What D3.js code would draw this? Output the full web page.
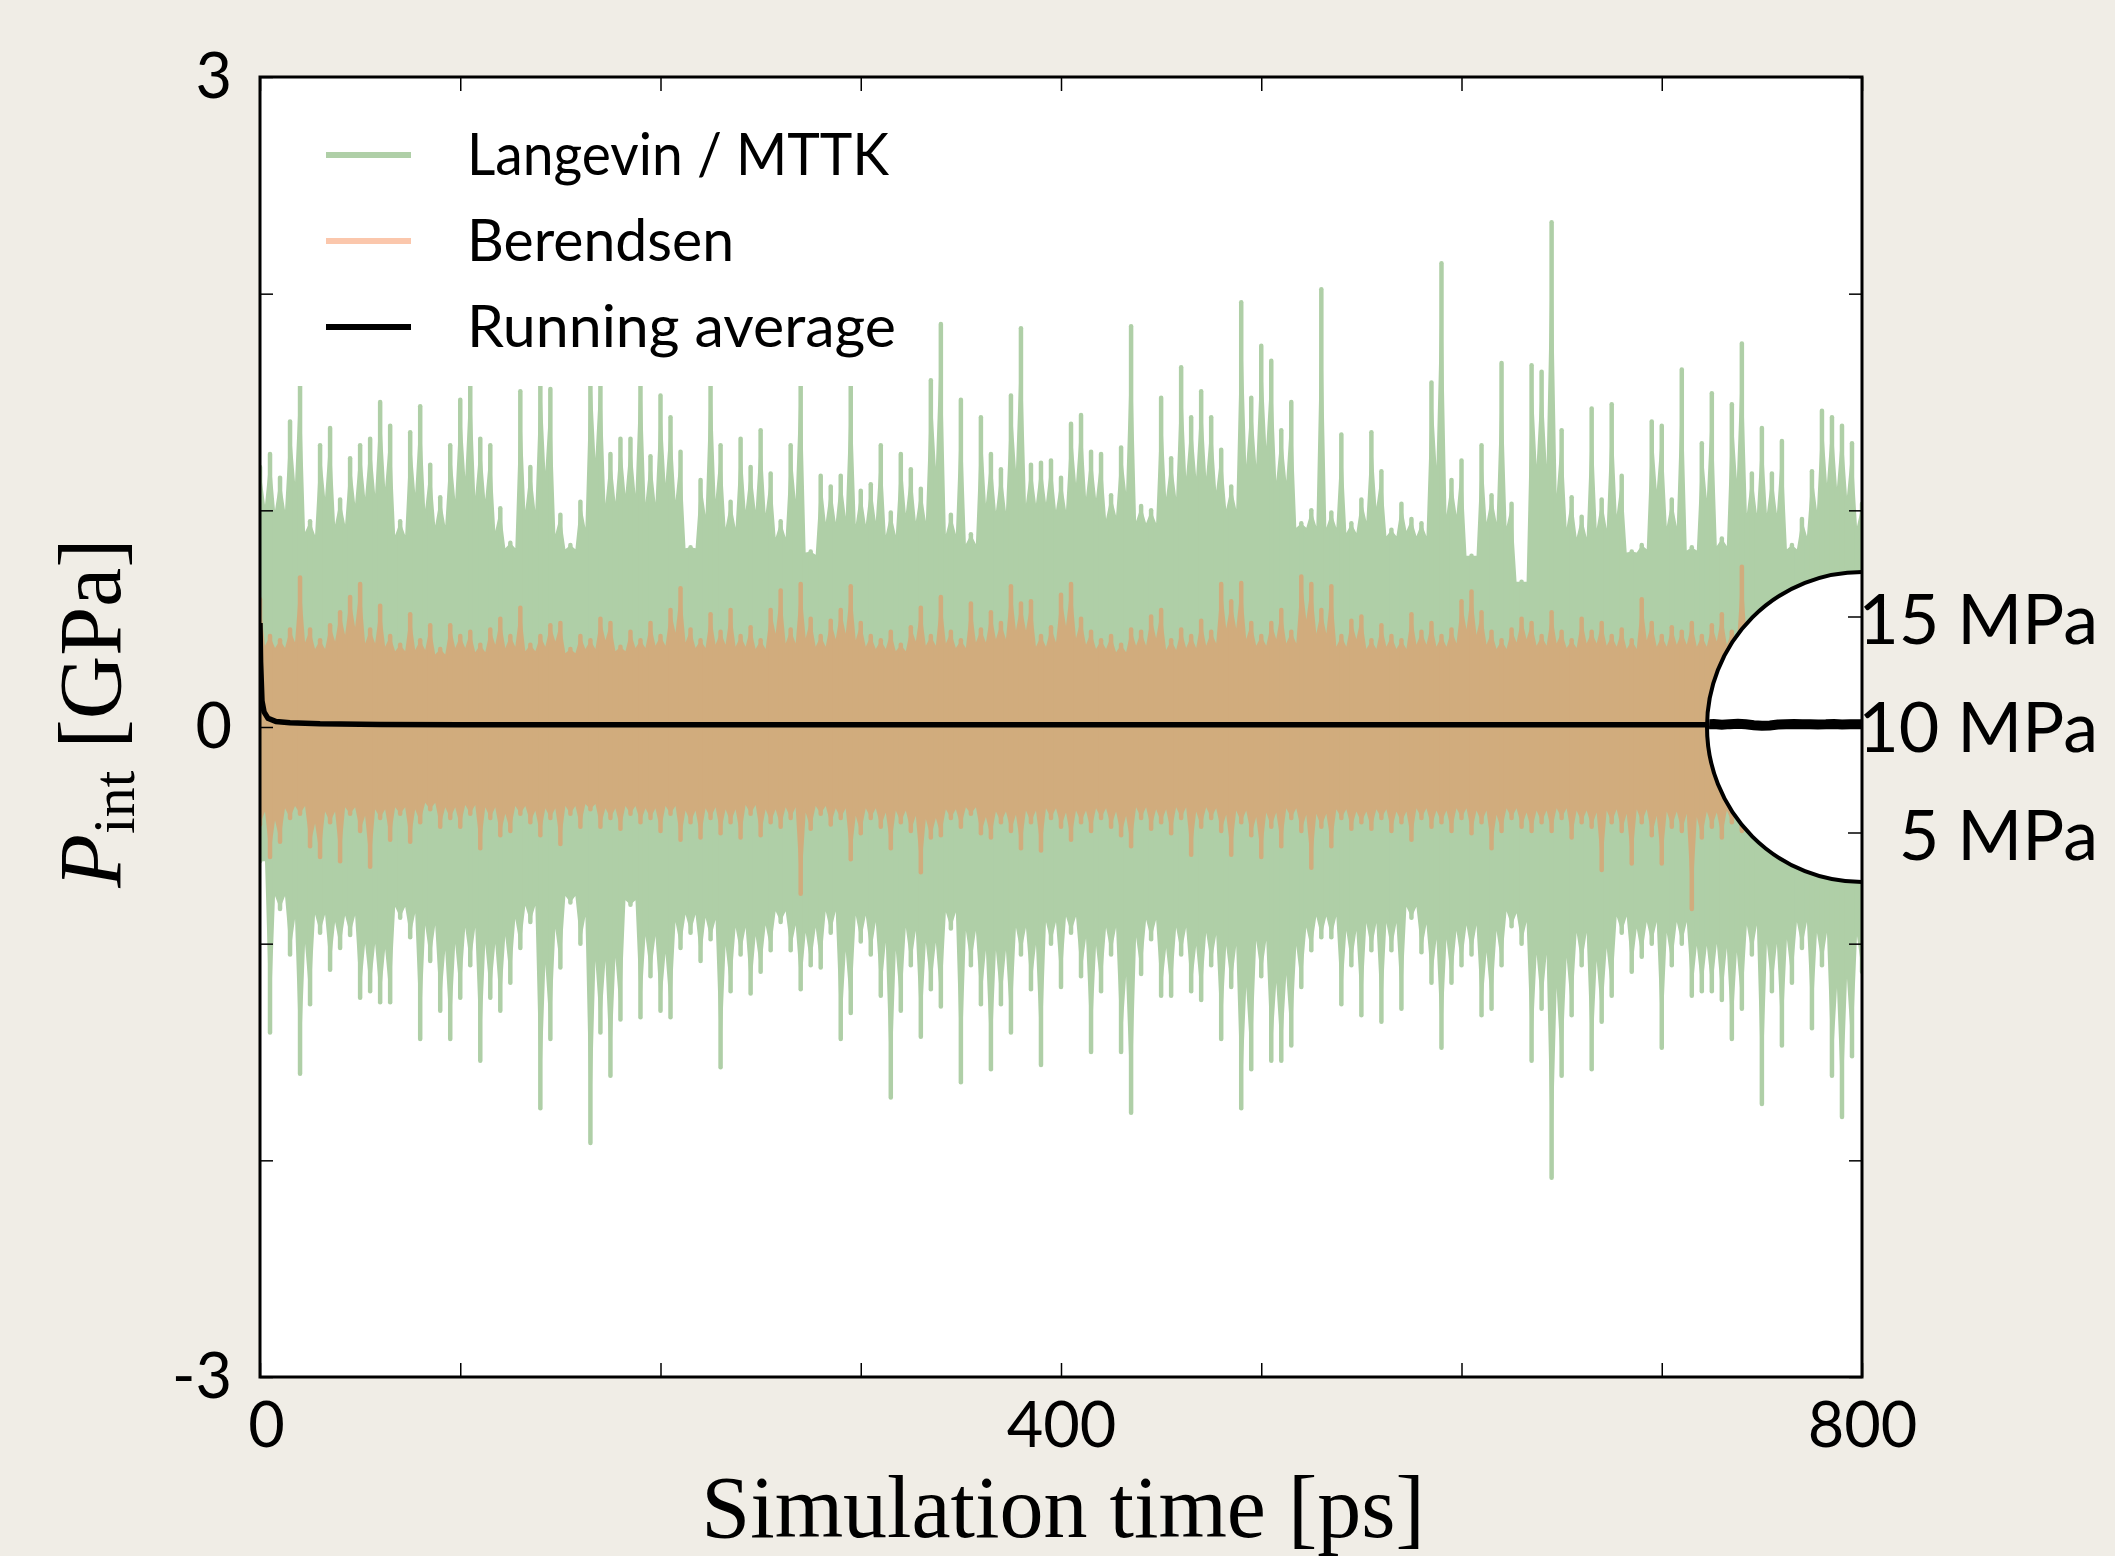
<!DOCTYPE html>
<html>
<head>
<meta charset="utf-8">
<script src="https://cdn.jsdelivr.net/npm/d3@7"></script>
<style>
  html, body { margin: 0; padding: 0; background: #f0ede6; }
  svg { display: block; }
</style>
</head>
<body>
<div id="chart"></div>
<script>
// pressure peaks, one station every 5 ps (GPa)
var stepPs = 5;
var greenHigh = [1.20,1.26,1.15,1.41,1.65,0.95,1.30,1.38,1.05,1.24,
  1.30,1.33,1.50,1.39,0.95,1.36,1.48,1.21,1.06,1.30,
  1.51,1.65,1.33,1.30,1.01,0.85,1.55,1.20,1.66,1.56,
  0.98,0.84,1.04,1.70,1.68,1.26,1.33,1.33,1.72,1.25,
  1.53,1.43,1.27,0.83,1.14,1.68,1.30,1.04,1.33,1.20,
  1.37,1.17,0.95,1.30,1.70,0.81,1.16,1.11,1.16,1.62,
  1.09,1.12,1.30,0.99,1.26,1.19,1.10,1.60,1.86,0.98,
  1.51,0.89,1.43,1.26,1.19,1.53,1.84,1.21,1.22,1.23,
  1.15,1.40,1.44,1.27,1.26,1.07,1.29,1.85,1.02,1.00,
  1.52,1.24,1.66,1.43,1.55,1.43,1.28,1.11,1.96,1.52,
  1.76,1.69,1.37,1.50,0.94,1.00,2.02,0.99,1.35,0.94,
  1.05,1.36,1.18,0.91,1.03,0.96,0.94,1.59,2.14,1.14,
  1.23,0.79,1.30,1.07,1.68,1.03,0.67,1.67,1.64,2.33,
  1.37,1.06,0.97,1.47,1.05,1.49,1.16,0.81,0.84,1.41,
  1.39,1.05,1.65,0.83,1.31,1.54,0.87,1.49,1.77,1.17,
  1.38,1.17,1.32,0.84,0.96,1.18,1.46,1.43,1.39,1.31,
  1.03];
var greenLow = [-0.62,-1.41,-0.84,-1.05,-1.60,-1.28,-0.95,-1.12,-1.02,-0.96,
  -1.25,-1.22,-1.27,-1.27,-0.88,-0.97,-1.44,-1.08,-1.31,-1.44,
  -1.25,-1.10,-1.54,-1.25,-1.31,-1.18,-1.02,-0.90,-1.76,-1.44,
  -1.11,-0.81,-1.00,-1.92,-1.41,-1.61,-1.35,-0.82,-1.34,-1.15,
  -1.31,-1.34,-1.02,-0.95,-1.08,-0.98,-1.57,-1.22,-1.05,-1.23,
  -1.13,-1.03,-0.90,-1.03,-1.21,-1.10,-1.11,-0.95,-1.44,-1.32,
  -0.99,-1.05,-1.24,-1.71,-1.31,-1.10,-1.43,-1.21,-1.29,-0.93,
  -1.64,-1.10,-1.28,-1.58,-1.28,-1.41,-1.05,-1.21,-1.56,-1.00,
  -1.20,-0.95,-1.15,-1.50,-1.22,-1.05,-1.50,-1.78,-1.14,-0.98,
  -1.24,-1.24,-1.05,-1.22,-1.26,-1.10,-1.44,-1.20,-1.76,-1.58,
  -1.15,-1.54,-1.54,-1.47,-1.20,-1.03,-0.97,-0.97,-1.28,-1.10,
  -1.33,-1.03,-1.36,-1.03,-1.30,-0.88,-1.04,-1.18,-1.48,-1.18,
  -1.10,-1.05,-1.33,-1.30,-1.10,-0.92,-1.00,-1.54,-1.30,-2.08,
  -1.61,-1.33,-1.10,-1.58,-1.36,-1.24,-0.95,-1.13,-1.06,-1.00,
  -1.48,-1.10,-1.00,-1.24,-1.22,-1.22,-1.26,-1.44,-1.30,-1.05,
  -1.74,-1.22,-1.47,-1.18,-1.02,-1.39,-1.10,-1.61,-1.80,-1.52,
  -1.13];
var orangeHigh = [0.59,0.42,0.40,0.45,0.69,0.45,0.40,0.47,0.53,0.60,
  0.66,0.45,0.56,0.42,0.38,0.52,0.40,0.47,0.36,0.47,
  0.42,0.44,0.38,0.45,0.50,0.42,0.55,0.38,0.42,0.47,
  0.48,0.36,0.42,0.40,0.50,0.48,0.37,0.44,0.40,0.48,
  0.42,0.54,0.64,0.45,0.40,0.52,0.44,0.54,0.42,0.46,
  0.40,0.54,0.63,0.45,0.66,0.50,0.42,0.49,0.54,0.65,
  0.48,0.42,0.40,0.44,0.38,0.46,0.55,0.42,0.60,0.44,
  0.40,0.57,0.45,0.53,0.48,0.65,0.57,0.58,0.42,0.46,
  0.61,0.66,0.50,0.44,0.40,0.42,0.38,0.45,0.44,0.51,
  0.54,0.40,0.45,0.42,0.49,0.44,0.66,0.58,0.665,0.48,
  0.42,0.48,0.54,0.44,0.695,0.66,0.54,0.65,0.42,0.49,
  0.51,0.40,0.47,0.42,0.40,0.52,0.44,0.48,0.42,0.45,
  0.58,0.625,0.53,0.44,0.40,0.45,0.50,0.48,0.42,0.53,
  0.44,0.40,0.50,0.44,0.48,0.42,0.45,0.40,0.59,0.48,
  0.42,0.46,0.44,0.48,0.42,0.47,0.52,0.44,0.74,0.46,
  0.50,0.44,0.48,0.42,0.46,0.50,0.44,0.47,0.42,0.48,
  0.45];
var orangeLow = [-0.45,-0.60,-0.53,-0.42,-0.40,-0.55,-0.60,-0.44,-0.62,-0.40,
  -0.48,-0.645,-0.42,-0.52,-0.40,-0.53,-0.44,-0.38,-0.46,-0.42,
  -0.46,-0.40,-0.56,-0.42,-0.50,-0.48,-0.40,-0.44,-0.50,-0.42,
  -0.54,-0.40,-0.46,-0.38,-0.46,-0.42,-0.47,-0.40,-0.44,-0.42,
  -0.48,-0.40,-0.52,-0.44,-0.51,-0.42,-0.49,-0.44,-0.51,-0.40,
  -0.50,-0.44,-0.46,-0.42,-0.77,-0.47,-0.40,-0.45,-0.42,-0.61,
  -0.49,-0.42,-0.46,-0.56,-0.44,-0.48,-0.67,-0.51,-0.50,-0.42,
  -0.46,-0.40,-0.49,-0.51,-0.44,-0.48,-0.56,-0.44,-0.57,-0.42,
  -0.46,-0.52,-0.44,-0.48,-0.42,-0.46,-0.50,-0.55,-0.42,-0.47,
  -0.44,-0.49,-0.42,-0.59,-0.46,-0.42,-0.48,-0.59,-0.44,-0.50,
  -0.60,-0.46,-0.55,-0.42,-0.48,-0.65,-0.46,-0.55,-0.42,-0.47,
  -0.44,-0.47,-0.42,-0.48,-0.44,-0.52,-0.42,-0.46,-0.44,-0.48,
  -0.42,-0.49,-0.44,-0.56,-0.48,-0.42,-0.46,-0.48,-0.44,-0.48,
  -0.42,-0.51,-0.44,-0.46,-0.66,-0.44,-0.48,-0.63,-0.44,-0.50,
  -0.63,-0.46,-0.48,-0.84,-0.51,-0.46,-0.51,-0.44,-0.48,-0.42,
  -0.46,-0.50,-0.44,-0.47,-0.42,-0.48,-0.44,-0.46,-0.50,-0.44,
  -0.47];

// edge of the solid part of each band, one value every 50 ps (GPa)
var coreStepPs = 50;
var greenCoreHigh = [0.85, 0.82, 0.80, 0.80, 0.82, 0.80, 0.78, 0.80, 0.85, 0.88, 0.90, 0.85, 0.82, 0.78, 0.80, 0.80, 0.82];
var greenCoreLow = [-0.72, -0.78, -0.75, -0.75, -0.78, -0.80, -0.75, -0.78, -0.80, -0.80, -0.82, -0.78, -0.78, -0.80, -0.80, -0.78, -0.80];
var orangeCoreHigh = [0.33, 0.32, 0.31, 0.32, 0.33, 0.32, 0.32, 0.33, 0.32, 0.31, 0.33, 0.32, 0.32, 0.33, 0.32, 0.32, 0.32];
var orangeCoreLow = [-0.33, -0.34, -0.32, -0.33, -0.33, -0.32, -0.33, -0.34, -0.33, -0.32, -0.33, -0.34, -0.33, -0.33, -0.32, -0.33, -0.33];

// running average (GPa)
var avgTimes = [0, 0.3, 1, 2, 4, 8, 15, 30, 60, 100, 200, 400, 600, 800];
var avgValues = [0.48, 0.30, 0.12, 0.07, 0.04, 0.025, 0.02, 0.015, 0.012, 0.010, 0.010, 0.010, 0.010, 0.010];

// zoomed running average in the inset (MPa)
var insetTimes = [722, 726, 730, 734, 738, 742, 746, 750, 754, 758, 762, 766, 770, 774, 778, 782, 786, 790, 794, 798, 800];
var insetValues = [10.02, 10.05, 10.01, 10.04, 10.06, 10.03, 9.99, 9.97, 9.98, 10.02, 10.04, 10.05, 10.03, 10.04, 10.02, 10.03, 10.05, 10.02, 10.04, 10.03, 10.03];
var insetTicks = [5, 10, 15];

var xTicks = [0, 100, 200, 300, 400, 500, 600, 700, 800];
var xLabels = [0, 400, 800];
var yTicks = [-3, -2, -1, 0, 1, 2, 3];
var yLabels = [-3, 0, 3];

var legendNames = ["Langevin / MTTK", "Berendsen", "Running average"];
var legendWidths = [422, 267, 429];

var green = "#afcfa7";
var orange = "#f7874f";
var orangeAlpha = 0.47;

var width = 2115, height = 1556;
var margin = { top: 77, right: 253, bottom: 179, left: 260 };
var plotW = width - margin.left - margin.right;
var plotH = height - margin.top - margin.bottom;

var x = d3.scaleLinear().domain([0, 800]).range([margin.left, margin.left + plotW]);
var y = d3.scaleLinear().domain([-3, 3]).range([margin.top + plotH, margin.top]);
var yInset = d3.scaleLinear().domain([5, 15]).range([833, 617]);

var svg = d3.select("#chart").append("svg")
    .attr("width", width)
    .attr("height", height);

svg.append("rect").attr("width", width).attr("height", height).attr("fill", "#f0ede6");

var defs = svg.append("defs");
defs.append("clipPath").attr("id", "plotClip")
    .append("rect")
    .attr("x", margin.left).attr("y", margin.top)
    .attr("width", plotW).attr("height", plotH);

var insetCx = x(800), insetCy = y(0), insetR = 155;
defs.append("clipPath").attr("id", "insetClip")
    .append("circle")
    .attr("cx", insetCx).attr("cy", insetCy).attr("r", insetR - 2);

// plot background
svg.append("rect")
    .attr("x", margin.left).attr("y", margin.top)
    .attr("width", plotW).attr("height", plotH)
    .attr("fill", "white");

var plot = svg.append("g").attr("clip-path", "url(#plotClip)");

// outline of a noisy band: peaks at every station, notches half way
// down towards the solid edge in between
function bandOutline(hi, lo, coreHi, coreLo) {
    var n = hi.length, top = [], bottom = [];
    for (var i = 0; i < n; i++) {
        var t = i * stepPs;
        top.push([t, hi[i]]);
        bottom.push([t, lo[i]]);
        if (i < n - 1) {
            var tm = t + stepPs / 2;
            var k = Math.round(tm / coreStepPs);
            var upNeighbour = Math.min(hi[i], hi[i + 1]);
            var lowNeighbour = Math.max(lo[i], lo[i + 1]);
            top.push([tm, Math.min(upNeighbour, (coreHi[k] + upNeighbour) / 2)]);
            bottom.push([tm, Math.max(lowNeighbour, (coreLo[k] + lowNeighbour) / 2)]);
        }
    }
    return top.concat(bottom.reverse());
}

function drawBand(g, hi, lo, coreHi, coreLo, color) {
    var line = d3.line()
        .x(function (d) { return x(d[0]); })
        .y(function (d) { return y(d[1]); });
    g.append("path")
        .attr("d", line(bandOutline(hi, lo, coreHi, coreLo)) + "Z")
        .attr("fill", color);
    g.selectAll("line.spike")
        .data(hi)
        .enter()
        .append("line")
        .attr("class", "spike")
        .attr("x1", function (d, i) { return x(i * stepPs); })
        .attr("x2", function (d, i) { return x(i * stepPs); })
        .attr("y1", function (d, i) { return y(lo[i]); })
        .attr("y2", function (d) { return y(d); })
        .attr("stroke", color)
        .attr("stroke-width", 4.5)
        .attr("stroke-linecap", "round");
}

drawBand(plot.append("g"), greenHigh, greenLow, greenCoreHigh, greenCoreLow, green);
drawBand(plot.append("g").attr("opacity", orangeAlpha), orangeHigh, orangeLow, orangeCoreHigh, orangeCoreLow, orange);

// running average
var avgLine = d3.line()
    .x(function (d, i) { return x(avgTimes[i]); })
    .y(function (d) { return y(d); });
plot.append("path")
    .datum(avgValues)
    .attr("d", avgLine)
    .attr("fill", "none")
    .attr("stroke", "black")
    .attr("stroke-width", 5.5);

// legend box
plot.append("rect")
    .attr("x", margin.left).attr("y", margin.top)
    .attr("width", 655).attr("height", 309)
    .attr("fill", "white");

var legendColors = [green, orange, "black"];
var legendOpacity = [1, orangeAlpha, 1];
var legend = svg.append("g");
legendNames.forEach(function (name, i) {
    var ly = 155 + i * 86;
    legend.append("line")
        .attr("x1", 326).attr("x2", 411)
        .attr("y1", ly).attr("y2", ly)
        .attr("stroke", legendColors[i])
        .attr("stroke-opacity", legendOpacity[i])
        .attr("stroke-width", 6);
    legend.append("text")
        .attr("x", 467)
        .attr("y", ly + 20)
        .attr("textLength", legendWidths[i])
        .attr("lengthAdjust", "spacingAndGlyphs")
        .style("font-family", "Lato")
        .style("font-size", "58px")
        .text(name);
});

// inset: magnified running average
var inset = plot.append("g");
inset.append("circle")
    .attr("cx", insetCx).attr("cy", insetCy).attr("r", insetR)
    .attr("fill", "white")
    .attr("stroke", "black")
    .attr("stroke-width", 4);

var insetLine = d3.line()
    .x(function (d, i) { return x(insetTimes[i]); })
    .y(function (d) { return yInset(d); });
inset.append("path")
    .datum(insetValues)
    .attr("clip-path", "url(#insetClip)")
    .attr("d", insetLine)
    .attr("fill", "none")
    .attr("stroke", "black")
    .attr("stroke-width", 10);

inset.selectAll("line.itick")
    .data([5, 15])
    .enter()
    .append("line")
    .attr("class", "itick")
    .attr("x1", x(800) - 14).attr("x2", x(800))
    .attr("y1", function (d) { return yInset(d); })
    .attr("y2", function (d) { return yInset(d); })
    .attr("stroke", "black")
    .attr("stroke-width", 1.5);

svg.selectAll("text.ilabel")
    .data(insetTicks)
    .enter()
    .append("text")
    .attr("class", "ilabel")
    .attr("x", 2098)
    .attr("y", function (d) { return yInset(d) + 27; })
    .attr("text-anchor", "end")
    .style("font-family", "Lato")
    .style("font-size", "70px")
    .text(function (d) { return d + " MPa"; });

// axes
function styleAxis(g) {
    g.select(".domain").remove();
    g.selectAll(".tick line").attr("stroke", "black").attr("stroke-width", 1.5);
    g.selectAll(".tick text")
        .attr("fill", "black")
        .style("font-family", "Lato")
        .style("font-size", "63px");
}

var xAxisG = svg.append("g")
    .attr("transform", "translate(0," + (margin.top + plotH) + ")")
    .call(d3.axisBottom(x).tickValues(xTicks).tickSize(-14).tickPadding(25)
        .tickFormat(function (d) { return xLabels.indexOf(d) >= 0 ? d : ""; }))
    .call(styleAxis);
xAxisG.selectAll(".tick text").filter(function (d) { return d === 0; }).attr("dx", 6);

svg.append("g")
    .attr("transform", "translate(0," + margin.top + ")")
    .call(d3.axisTop(x).tickValues(xTicks).tickSize(-14).tickFormat(""))
    .call(styleAxis);

svg.append("g")
    .attr("transform", "translate(" + margin.left + ",0)")
    .call(d3.axisLeft(y).tickValues(yTicks).tickSize(-13).tickPadding(28)
        .tickFormat(function (d) {
            if (yLabels.indexOf(d) < 0) return "";
            return d < 0 ? "-" + (-d) : String(d);
        }))
    .call(styleAxis);

svg.append("g")
    .attr("transform", "translate(" + (margin.left + plotW) + ",0)")
    .call(d3.axisRight(y).tickValues(yTicks).tickSize(-13).tickFormat(""))
    .call(styleAxis);

// frame
svg.append("rect")
    .attr("x", margin.left).attr("y", margin.top)
    .attr("width", plotW).attr("height", plotH)
    .attr("fill", "none")
    .attr("stroke", "black")
    .attr("stroke-width", 3);

// axis titles
svg.append("text")
    .attr("x", 1063)
    .attr("y", 1537)
    .attr("text-anchor", "middle")
    .style("font-family", "Liberation Serif")
    .style("font-size", "88px")
    .text("Simulation time [ps]");

var ylab = svg.append("text")
    .attr("transform", "translate(120,713) rotate(-90)")
    .attr("text-anchor", "middle")
    .style("font-family", "Liberation Serif")
    .style("font-size", "88px");
ylab.append("tspan").style("font-style", "italic").text("P");
ylab.append("tspan").attr("dy", 14).style("font-size", "60px").text("int");
ylab.append("tspan").attr("dy", -14).text("\u00a0[GPa]");
</script>
</body>
</html>
